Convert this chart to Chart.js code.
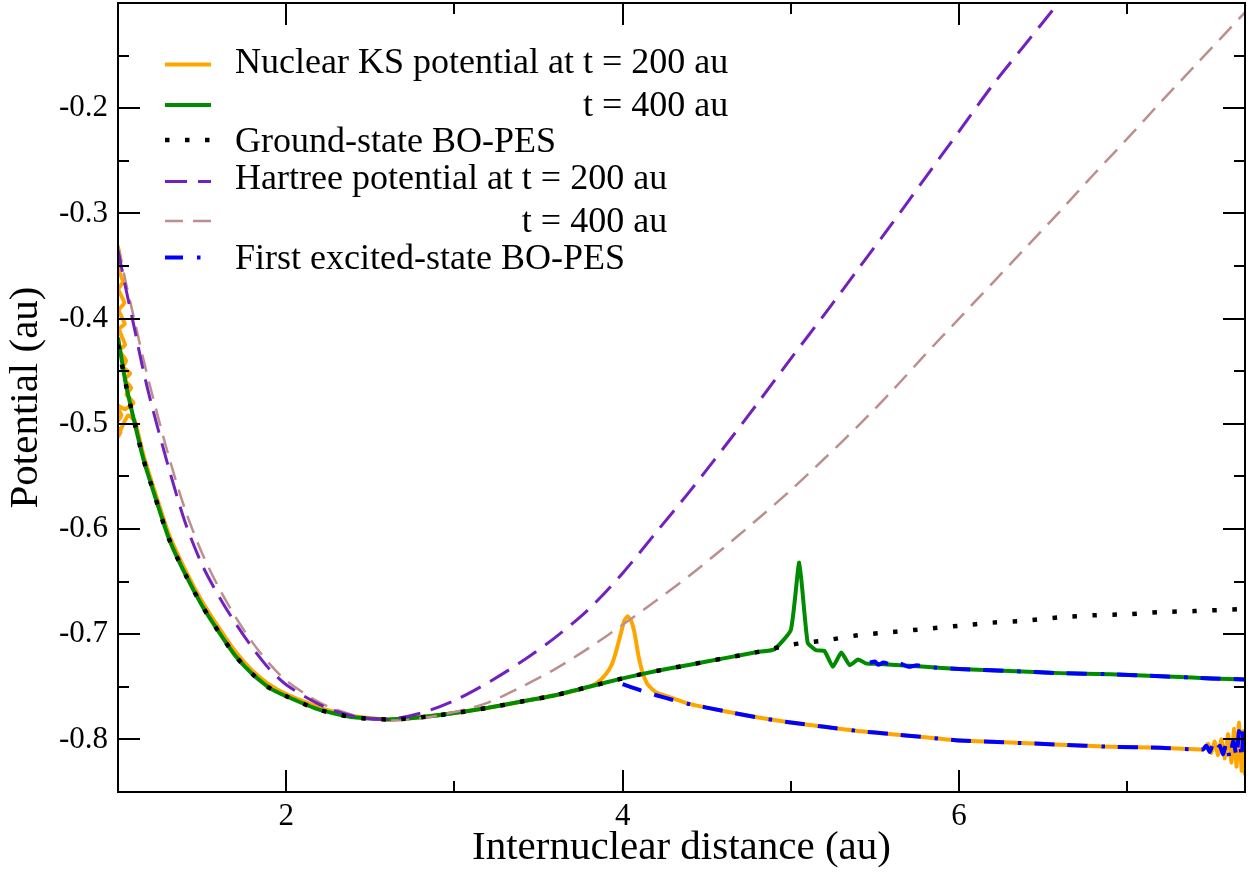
<!DOCTYPE html>
<html>
<head>
<meta charset="utf-8">
<title>Nuclear KS and Hartree potentials</title>
<script src="https://cdn.jsdelivr.net/npm/chart.js@4.4.1/dist/chart.umd.min.js"></script>
<style>
  html, body { margin: 0; padding: 0; background: #ffffff; }
  canvas { display: block; }
</style>
</head>
<body>
<canvas id="potentialChart" width="1255" height="873"></canvas>
<script>
// Internuclear distance R (au) and potentials (au)

// ground-state BO-PES
const groundR = [1.0, 1.05, 1.1, 1.15, 1.2, 1.3, 1.4, 1.5, 1.6, 1.7, 1.8, 1.9, 2.0, 2.2, 2.4, 2.6, 2.8, 3.0,
  3.2, 3.4, 3.6, 3.8, 4.0, 4.2, 4.4, 4.6, 4.8, 5.0, 5.2, 5.4, 5.6, 5.8, 6.0, 6.2, 6.4, 6.6, 6.8, 7.0, 7.2, 7.4, 7.7];
const groundV = [-0.425, -0.465, -0.500, -0.533, -0.559, -0.608, -0.643, -0.673, -0.698, -0.721, -0.738, -0.751,
  -0.759, -0.772, -0.779, -0.781, -0.779, -0.775, -0.770, -0.764, -0.758, -0.750, -0.742, -0.735, -0.729, -0.723,
  -0.717, -0.710, -0.706, -0.701, -0.698, -0.695, -0.692, -0.689, -0.687, -0.684, -0.682, -0.681, -0.679, -0.678, -0.676];

// nuclear KS potential, t = 200 au (noisy near both ends)
const ks200R = [1.000, 1.015, 1.000, 1.030, 1.002, 1.038, 1.004, 1.040, 1.006, 1.042, 1.008, 1.048, 1.030, 1.072,
  1.040, 1.078, 1.050, 1.092, 1.040, 0.990, 1.020, 0.988, 1.015, 0.995, 1.060, 1.10, 1.15, 1.2, 1.3, 1.4, 1.5,
  1.6, 1.7, 1.8, 1.9, 2.0, 2.2, 2.4, 2.6, 2.8, 3.0, 3.2, 3.4, 3.6, 3.8, 3.85, 3.9, 3.935, 3.96, 3.99, 4.01, 4.03,
  4.05, 4.07, 4.095, 4.12, 4.15, 4.2, 4.3, 4.4, 4.6, 4.8, 5.0, 5.2, 5.4, 5.6, 5.8, 6.0, 6.3, 6.6, 6.9, 7.2, 7.45,
  7.48, 7.50, 7.52, 7.54, 7.56, 7.58, 7.60, 7.62, 7.635, 7.65, 7.665, 7.68, 7.69, 7.70];
const ks200V = [-0.332, -0.345, -0.352, -0.365, -0.372, -0.385, -0.392, -0.405, -0.410, -0.425, -0.430, -0.440,
  -0.446, -0.452, -0.458, -0.466, -0.472, -0.480, -0.486, -0.482, -0.492, -0.500, -0.508, -0.513, -0.492, -0.497,
  -0.529, -0.555, -0.604, -0.639, -0.669, -0.694, -0.717, -0.735, -0.748, -0.757, -0.770, -0.778, -0.781, -0.779,
  -0.775, -0.770, -0.764, -0.758, -0.750, -0.746, -0.738, -0.729, -0.717, -0.699, -0.687, -0.683, -0.687, -0.698,
  -0.721, -0.737, -0.748, -0.7555, -0.761, -0.7665, -0.773, -0.779, -0.784, -0.788, -0.792, -0.795, -0.798, -0.801,
  -0.803, -0.805, -0.807, -0.808, -0.8095, -0.804, -0.813, -0.802, -0.815, -0.800, -0.818, -0.795, -0.822, -0.790,
  -0.826, -0.784, -0.830, -0.792, -0.834];

// nuclear KS potential, t = 400 au
const ks400R = [1.0, 1.05, 1.1, 1.15, 1.2, 1.3, 1.4, 1.5, 1.6, 1.7, 1.8, 1.9, 2.0, 2.2, 2.4, 2.6, 2.8, 3.0, 3.2,
  3.4, 3.6, 3.8, 4.0, 4.2, 4.4, 4.6, 4.8, 4.9, 5.0, 5.05, 5.1, 5.15, 5.2, 5.25, 5.3, 5.35, 5.4, 5.45, 5.5, 5.6,
  5.8, 6.0, 6.3, 6.6, 6.9, 7.2, 7.5, 7.7];
const ks400V = [-0.418, -0.465, -0.500, -0.533, -0.559, -0.608, -0.643, -0.673, -0.698, -0.721, -0.738, -0.751,
  -0.759, -0.772, -0.779, -0.781, -0.779, -0.775, -0.770, -0.764, -0.758, -0.750, -0.742, -0.735, -0.729, -0.723,
  -0.717, -0.7145, -0.696, -0.632, -0.708, -0.7153, -0.716, -0.731, -0.7174, -0.7295, -0.724, -0.728, -0.728,
  -0.729, -0.731, -0.733, -0.735, -0.737, -0.738, -0.740, -0.742, -0.743];

// Hartree potential, t = 200 au
const hartree200R = [1.0, 1.05, 1.1, 1.15, 1.2, 1.3, 1.4, 1.5, 1.6, 1.7, 1.8, 1.9, 2.0, 2.2, 2.4, 2.6, 2.8, 3.0,
  3.2, 3.4, 3.6, 3.8, 4.0, 4.2, 4.4, 4.6, 4.8, 5.0, 5.2, 5.4, 5.6, 5.8, 6.0, 6.2, 6.4, 6.6, 6.8];
const hartree200V = [-0.335, -0.374, -0.411, -0.449, -0.482, -0.541, -0.594, -0.634, -0.664, -0.690, -0.713,
  -0.733, -0.748, -0.767, -0.778, -0.781, -0.775, -0.763, -0.746, -0.726, -0.703, -0.676, -0.642, -0.603, -0.564,
  -0.523, -0.481, -0.438, -0.396, -0.353, -0.310, -0.266, -0.222, -0.178, -0.138, -0.098, -0.056];

// Hartree potential, t = 400 au
const hartree400R = [1.0, 1.05, 1.1, 1.15, 1.2, 1.3, 1.4, 1.5, 1.6, 1.7, 1.8, 1.9, 2.0, 2.2, 2.4, 2.6, 2.8, 3.0,
  3.2, 3.4, 3.6, 3.8, 4.0, 4.2, 4.4, 4.6, 4.8, 5.0, 5.2, 5.4, 5.6, 5.8, 6.0, 6.2, 6.4, 6.6, 6.8, 7.0, 7.2, 7.4, 7.7];
const hartree400V = [-0.330, -0.368, -0.403, -0.438, -0.470, -0.530, -0.582, -0.623, -0.656, -0.684, -0.708,
  -0.728, -0.744, -0.765, -0.777, -0.782, -0.780, -0.774, -0.765, -0.750, -0.733, -0.713, -0.691, -0.668, -0.644,
  -0.618, -0.591, -0.563, -0.533, -0.502, -0.469, -0.434, -0.400, -0.366, -0.332, -0.298, -0.263, -0.229, -0.194,
  -0.160, -0.109];

// first excited-state BO-PES, lower branch
const excitedLowR = [4.0, 4.1, 4.2, 4.3, 4.4, 4.6, 4.8, 5.0, 5.2, 5.4, 5.6, 5.8, 6.0, 6.3, 6.6, 6.9, 7.2, 7.45,
  7.47, 7.49, 7.51, 7.53, 7.55, 7.57, 7.59, 7.61, 7.63, 7.65, 7.665, 7.68, 7.69, 7.70];
const excitedLowV = [-0.7475, -0.753, -0.758, -0.7625, -0.7665, -0.773, -0.779, -0.784, -0.788, -0.792, -0.795,
  -0.798, -0.801, -0.803, -0.805, -0.807, -0.808, -0.8095, -0.806, -0.812, -0.804, -0.810, -0.806, -0.814, -0.803,
  -0.818, -0.801, -0.816, -0.792, -0.818, -0.790, -0.805];

// first excited-state BO-PES, upper branch
const excitedHighR = [5.47, 5.5, 5.52, 5.55, 5.6, 5.65, 5.7, 5.75, 5.8, 6.0, 6.3, 6.6, 6.9, 7.2, 7.5, 7.7];
const excitedHighV = [-0.727, -0.726, -0.729, -0.727, -0.729, -0.728, -0.731, -0.7295, -0.731, -0.733, -0.735,
  -0.737, -0.738, -0.740, -0.742, -0.743];

// axis ticks
const xMajorTicks = [2, 4, 6];
const xMinorTicks = [3, 5, 7];
const xTickLabels = ['2', '4', '6'];
const yMajorTicks = [-0.8, -0.7, -0.6, -0.5, -0.4, -0.3, -0.2];
const yMinorTicks = [-0.75, -0.65, -0.55, -0.45, -0.35, -0.25, -0.15];
const yTickLabels = ['-0.8', '-0.7', '-0.6', '-0.5', '-0.4', '-0.3', '-0.2'];

const legendLabels = [
  'Nuclear KS potential at t = 200 au',
  't = 400 au',
  'Ground-state BO-PES',
  'Hartree potential at t = 200 au',
  't = 400 au',
  'First excited-state BO-PES'
];

const pts = (xs, ys) => xs.map((x, i) => ({ x: x, y: ys[i] }));
const SERIF = '"Liberation Serif", "Times New Roman", serif';

// first dataset in the list is painted last (on top)
const excitedLow = {
  data: pts(excitedLowR, excitedLowV), borderColor: '#0000ff', borderWidth: 4,
  borderDash: [20, 13, 20, 14, 3.5, 13], legendDash: [18, 14, 3.5, 20], tension: 0.2
};
const excitedHigh = {
  data: pts(excitedHighR, excitedHighV), borderColor: '#0000ff', borderWidth: 4,
  borderDash: [20, 13, 20, 14, 3.5, 13], tension: 0.2
};
const ground = {
  data: pts(groundR, groundV), borderColor: '#000000', borderWidth: 4.5,
  borderDash: [4.5, 15.5], tension: 0.3
};
const hartree200 = {
  data: pts(hartree200R, hartree200V), borderColor: '#7221bc', borderWidth: 3,
  borderDash: [22, 11], tension: 0.3
};
const hartree400 = {
  data: pts(hartree400R, hartree400V), borderColor: '#bc8f8f', borderWidth: 2.5,
  borderDash: [18, 10], tension: 0.3
};
const ks400 = {
  data: pts(ks400R, ks400V), borderColor: '#008b00', borderWidth: 4, tension: 0.15
};
const ks200 = {
  data: pts(ks200R, ks200V), borderColor: '#ffa500', borderWidth: 4, tension: 0.15
};

// legend rows: dataset drawn as sample, and whether the text hangs under the row above
const legendRows = [
  { ds: ks200 }, { ds: ks400, under: true }, { ds: ground },
  { ds: hartree200 }, { ds: hartree400, under: true }, { ds: excitedLow }
];

const frameTicks = {
  id: 'frameTicks',
  afterDatasetsDraw(chart) {
    const { ctx, chartArea: a, scales: { x, y } } = chart;
    ctx.save();
    ctx.strokeStyle = '#000';
    ctx.lineWidth = 2;
    ctx.setLineDash([]);
    ctx.strokeRect(a.left, a.top, a.right - a.left, a.bottom - a.top);
    ctx.beginPath();
    const xMarks = (vals, len) => vals.forEach(v => {
      const p = Math.round(x.getPixelForValue(v));
      ctx.moveTo(p, a.bottom); ctx.lineTo(p, a.bottom - len);
      ctx.moveTo(p, a.top); ctx.lineTo(p, a.top + len);
    });
    const yMarks = (vals, len) => vals.forEach(v => {
      const p = Math.round(y.getPixelForValue(v));
      ctx.moveTo(a.left, p); ctx.lineTo(a.left + len, p);
      ctx.moveTo(a.right, p); ctx.lineTo(a.right - len, p);
    });
    xMarks(xMajorTicks, 22); xMarks(xMinorTicks, 11);
    yMarks(yMajorTicks, 22); yMarks(yMinorTicks, 11);
    ctx.stroke();
    ctx.restore();
  }
};

const curveLegend = {
  id: 'curveLegend',
  afterDraw(chart) {
    const ctx = chart.ctx;
    const sampleY = [64.5, 105, 140, 181.5, 221, 257.5];
    const baseY = [72.5, 116, 151.5, 189, 231.5, 269];
    const textX = 235;
    ctx.save();
    ctx.font = '36px ' + SERIF;
    ctx.fillStyle = '#000';
    ctx.textBaseline = 'alphabetic';
    let prevEnd = textX;
    legendRows.forEach((row, i) => {
      const ds = row.ds;
      ctx.beginPath();
      ctx.strokeStyle = ds.borderColor;
      ctx.lineWidth = ds.borderWidth;
      ctx.lineCap = 'butt';
      ctx.setLineDash(ds.legendDash || ds.borderDash || []);
      ctx.moveTo(165, sampleY[i]);
      ctx.lineTo(211, sampleY[i]);
      ctx.stroke();
      ctx.setLineDash([]);
      const w = ctx.measureText(legendLabels[i]).width;
      const tx = row.under ? prevEnd - w : textX;
      ctx.fillText(legendLabels[i], tx, baseY[i]);
      prevEnd = tx + w;
    });
    ctx.restore();
  }
};

Chart.defaults.font.family = SERIF;
Chart.defaults.color = '#000';

new Chart(document.getElementById('potentialChart').getContext('2d'), {
  type: 'line',
  data: {
    datasets: [excitedLow, excitedHigh, ground, hartree200, hartree400, ks400, ks200].map(ds => ({
      ...ds, pointRadius: 0, fill: false, borderCapStyle: 'butt'
    }))
  },
  options: {
    responsive: false,
    animation: false,
    layout: { padding: { top: 3, right: 10, left: 0, bottom: 0 } },
    plugins: {
      legend: { display: false },
      tooltip: { enabled: false }
    },
    scales: {
      x: {
        type: 'linear',
        min: 1,
        max: 7.7,
        grid: { display: false, drawTicks: false },
        border: { display: false },
        afterBuildTicks: s => { s.ticks = xMajorTicks.map(v => ({ value: v })); },
        afterFit: s => { s.height = 81; s.paddingLeft = 0; s.paddingRight = 0; },
        ticks: {
          autoSkip: false,
          maxRotation: 0,
          padding: 6,
          color: '#000',
          font: { size: 31 },
          callback: (v, i) => xTickLabels[i]
        },
        title: {
          display: true,
          text: 'Internuclear distance (au)',
          color: '#000',
          font: { size: 41 },
          padding: { top: 0, bottom: 0 }
        }
      },
      y: {
        type: 'linear',
        min: -0.85,
        max: -0.1,
        grid: { display: false, drawTicks: false },
        border: { display: false },
        afterBuildTicks: s => { s.ticks = yMajorTicks.map(v => ({ value: v })); },
        afterFit: s => { s.width = 118; s.paddingTop = 0; s.paddingBottom = 0; },
        ticks: {
          autoSkip: false,
          padding: 10,
          color: '#000',
          font: { size: 31 },
          callback: (v, i) => yTickLabels[i]
        },
        title: {
          display: true,
          text: 'Potential (au)',
          color: '#000',
          font: { size: 41 },
          padding: { top: 2, bottom: 0 }
        }
      }
    }
  },
  plugins: [frameTicks, curveLegend]
});
</script>
</body>
</html>
